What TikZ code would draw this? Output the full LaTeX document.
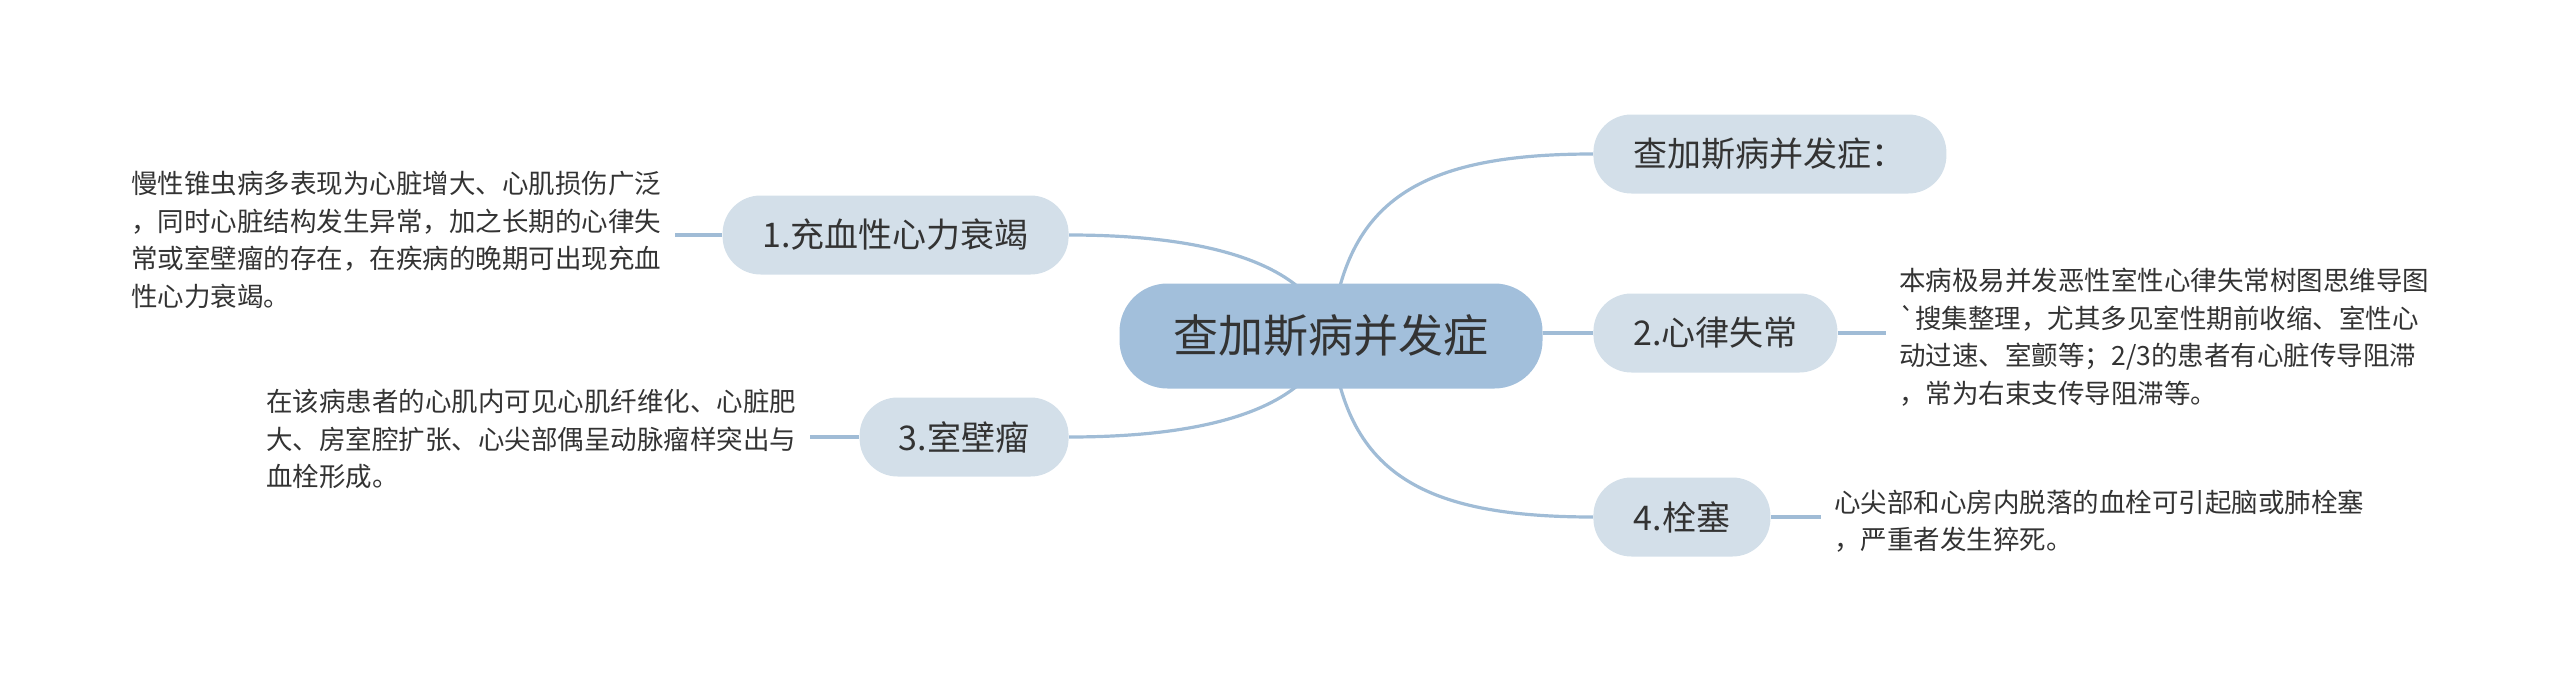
\documentclass[tikz,border=0pt]{standalone}
\usepackage{fontspec}
\setmainfont{Noto Sans CJK SC}
\newfontfamily\rawcjk{Noto Sans CJK SC}
\usetikzlibrary{calc}
\definecolor{rootfill}{HTML}{A2BFDB}
\definecolor{subfill}{HTML}{D3DFE9}
\definecolor{linkc}{HTML}{A0BCD6}
\definecolor{txt}{HTML}{333333}
\pgfdeclarelayer{bg}
\pgfsetlayers{bg,main}
\begin{document}
\begin{tikzpicture}[x=0.5pt,y=-0.5pt,
 rootbox/.style={fill=rootfill, rounded corners=24pt, minimum width=211.5pt, minimum height=52.5pt, inner sep=0pt, text=txt, font=\fontsize{22.5pt}{27pt}\selectfont},
 subbox/.style={fill=subfill, rounded corners=19pt, minimum height=39.5pt, inner sep=0pt, text=txt, font=\fontsize{17pt}{20pt}\selectfont},
 note/.style={align=left, inner xsep=6.5pt, inner ysep=0pt, text=txt, font=\fontsize{13.25pt}{18.75pt}\selectfont},
 link/.style={draw=linkc, line width=1.6pt}]
\useasboundingbox (0,0) rectangle (2560,680);
\node[rootbox] (root) at (1331,336) {查加斯病并发症};
\node[subbox, minimum width=173pt, anchor=east] (n1) at (1069,235) {1.充血性心力衰竭};
\node[subbox, minimum width=104.5pt, anchor=east] (n3) at (1069,437) {3.室壁瘤};
\node[subbox, minimum width=176.5pt, anchor=west] (t0) at (1593,154) {查加斯病并发症：};
\node[subbox, minimum width=122pt, anchor=west] (n2) at (1593,333) {2.心律失常};
\node[subbox, minimum width=88.5pt, anchor=west] (n4) at (1593,517) {4.栓塞};
\node[note, anchor=west] (note1) at (118,240) {慢性锥虫病多表现为心脏增大、心肌损伤广泛\\，同时心脏结构发生异常，加之长期的心律失\\常或室壁瘤的存在，在疾病的晚期可出现充血\\性心力衰竭。};
\node[note, anchor=west] (note3) at (253,439) {在该病患者的心肌内可见心肌纤维化、心脏肥\\大、房室腔扩张、心尖部偶呈动脉瘤样突出与\\血栓形成。};
\node[note, anchor=west] (note2) at (1886,337) {本病极易并发恶性室性心律失常树图思维导图\\{\rawcjk\symbol{96}}搜集整理，尤其多见室性期前收缩、室性心\\动过速、室颤等；2/3的患者有心脏传导阻滞\\，常为右束支传导阻滞等。};
\node[note, anchor=west] (note4) at (1821,521) {心尖部和心房内脱落的血栓可引起脑或肺栓塞\\，严重者发生猝死。};
\begin{pgfonlayer}{bg}
\draw[link] (root.center) .. controls (1310,260) and (1200,235) .. (n1.east);
\draw[link] (root.center) .. controls (1310,412) and (1200,437) .. (n3.east);
\draw[link] (root.center) .. controls (1345,200) and (1420,154) .. (t0.west);
\draw[link] (root.center) .. controls (1345,472) and (1420,517) .. (n4.west);
\draw[link] (root.east |- n2.west) -- (n2.west);
\draw[link] (n1.west) -- (n1.west -| note1.east);
\draw[link] (n3.west) -- (n3.west -| note3.east);
\draw[link] (n2.east) -- (n2.east -| note2.west);
\draw[link] (n4.east) -- (n4.east -| note4.west);
\end{pgfonlayer}
\end{tikzpicture}
\end{document}
